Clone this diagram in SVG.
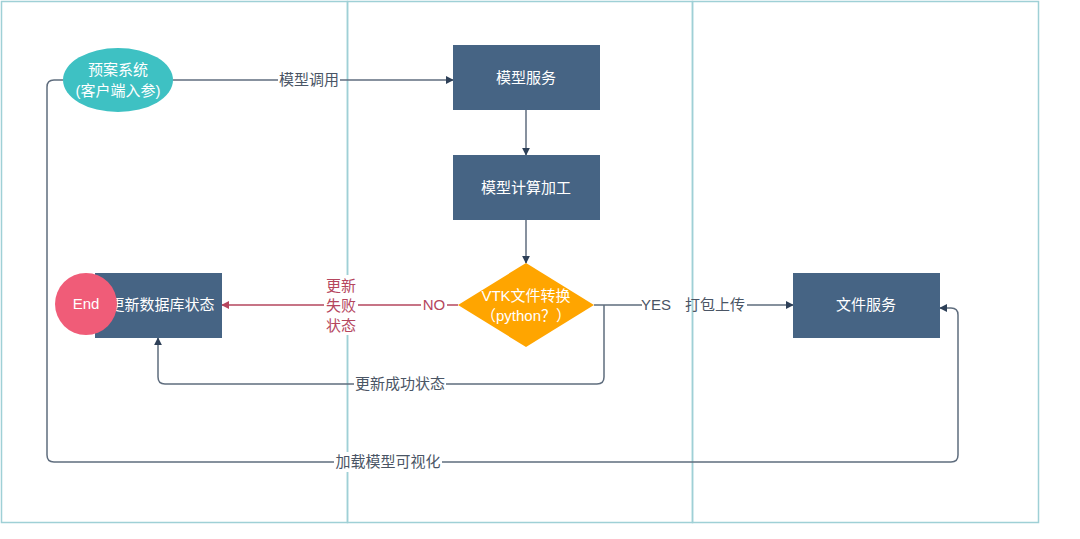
<svg xmlns="http://www.w3.org/2000/svg" width="1080" height="539" viewBox="0 0 1080 539">
<defs>
<style>
.lane{fill:none;stroke:#9fd0d6;stroke-width:1.5}
.box{fill:#466484}
.t{font-family:"Liberation Sans","Noto Sans CJK SC",sans-serif;font-size:15px;text-anchor:middle;dominant-baseline:central}
.w{fill:#ffffff}
.g{fill:#4a5565}
.r{fill:#b5465e}
.ln{fill:none;stroke:#5f6d7e;stroke-width:1.5}
.lr{fill:none;stroke:#b5465e;stroke-width:1.5}
.lb{fill:#ffffff}
</style>
<marker id="a" viewBox="0 0 10 10" refX="9" refY="5" markerWidth="8" markerHeight="8" markerUnits="userSpaceOnUse" orient="auto"><path d="M0,0 L10,5 L0,10 z" fill="#2e4058"/></marker>
<marker id="ar" viewBox="0 0 10 10" refX="9" refY="5" markerWidth="8" markerHeight="8" markerUnits="userSpaceOnUse" orient="auto"><path d="M0,0 L10,5 L0,10 z" fill="#b5465e"/></marker>
</defs>
<rect width="1080" height="539" fill="#ffffff"/>
<g id="lanes">
<rect class="lane" x="1.5" y="1.5" width="346" height="521"/>
<rect class="lane" x="347.5" y="1.5" width="345" height="521"/>
<rect class="lane" x="692.5" y="1.5" width="346" height="521"/>
</g>
<g id="connectors">
<path class="ln" d="M173,80 L453,80" marker-end="url(#a)"/>
<rect class="lb" x="278" y="70" width="62" height="20"/>
<text class="t g" x="309" y="79">模型调用</text>
<path class="ln" d="M526,110 L526,155" marker-end="url(#a)"/>
<path class="ln" d="M526,220 L526,263" marker-end="url(#a)"/>
<path class="lr" d="M458,305 L222,305" marker-end="url(#ar)"/>
<rect class="lb" x="421" y="295" width="26" height="20"/>
<text class="t r" x="434" y="304">NO</text>
<rect class="lb" x="324" y="275" width="34" height="60"/>
<text class="t r" x="341" y="285">更新</text>
<text class="t r" x="341" y="305">失败</text>
<text class="t r" x="341" y="325">状态</text>
<path class="ln" d="M594,305 L642,305 M747,305 L793,305" marker-end="url(#a)"/>
<text class="t g" x="656" y="304">YES</text>
<text class="t g" x="715" y="304">打包上传</text>
<path class="ln" d="M604,305 L604,377 Q604,384 597,384 L165,384 Q158,384 158,377 L158,338" marker-end="url(#a)"/>
<rect class="lb" x="354" y="374" width="92" height="20"/>
<text class="t g" x="400" y="383">更新成功状态</text>
<path class="ln" d="M63,80 L54,80 Q47,80 47,87 L47,455 Q47,462 54,462 L951,462 Q958,462 958,455 L958,315 Q958,308 951,308 L940,308" marker-end="url(#a)"/>
<rect class="lb" x="334" y="452" width="108" height="20"/>
<text class="t g" x="388" y="461">加载模型可视化</text>
</g>
<g id="n-yuan">
<ellipse cx="118" cy="80" rx="55" ry="32" fill="#3ec1c3"/>
<text class="t w" x="118" y="69">预案系统</text>
<text class="t w" x="118" y="90">(客户端入参)</text>
</g>
<g id="n-moxingfuwu">
<rect class="box" x="453" y="45" width="147" height="65"/>
<text class="t w" x="526" y="77">模型服务</text>
</g>
<g id="n-jisuan">
<rect class="box" x="453" y="155" width="147" height="65"/>
<text class="t w" x="526" y="187">模型计算加工</text>
</g>
<g id="n-vtk">
<path d="M526,263 L594,305 L526,347 L458,305 z" fill="#ffa500"/>
<text class="t w" x="526" y="295">VTK文件转换</text>
<text class="t w" x="526" y="315">（python？）</text>
</g>
<g id="n-db">
<rect class="box" x="95" y="273" width="127" height="65"/>
<text class="t w" x="162" y="304">更新数据库状态</text>
</g>
<g id="n-end">
<circle cx="86" cy="304" r="31" fill="#f05c78"/>
<text class="t w" x="86" y="303">End</text>
</g>
<g id="n-file">
<rect class="box" x="793" y="273" width="147" height="65"/>
<text class="t w" x="866" y="304">文件服务</text>
</g>
</svg>
